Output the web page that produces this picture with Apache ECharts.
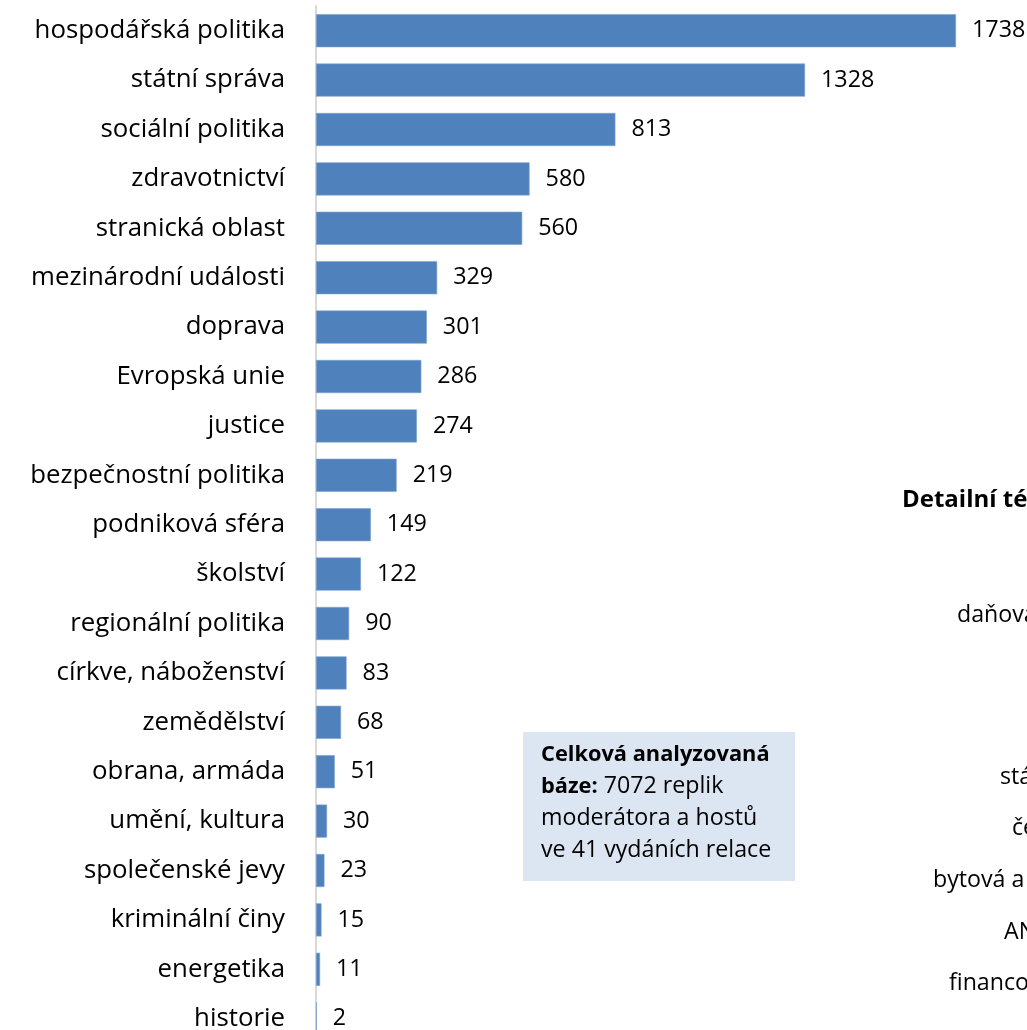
<!DOCTYPE html>
<html><head><meta charset="utf-8">
<script src="https://cdn.jsdelivr.net/npm/echarts@6/dist/echarts.min.js"></script>
<style>html,body{margin:0;padding:0;background:#fff}#c{width:1027px;height:1030px}</style>
</head><body><div id="c"></div>
<script>
const categories = ["hospodářská politika","státní správa","sociální politika","zdravotnictví","stranická oblast","mezinárodní události","doprava","Evropská unie","justice","bezpečnostní politika","podniková sféra","školství","regionální politika","církve, náboženství","zemědělství","obrana, armáda","umění, kultura","společenské jevy","kriminální činy","energetika","historie"];
const values = [1738,1328,813,580,560,329,301,286,274,219,149,122,90,83,68,51,30,23,15,11,2];
const noteTitle = "Celková analyzovaná";
const noteBold = "báze:";
const noteRest = [" 7072 replik","moderátora a hostů","ve 41 vydáních relace"];
const sideTitle = "Detailní témata";
const sideLabels = ["daňová politika","státní rozpočet","čerpání dotací","bytová a stavební politika","ANO","financování"];

const FONT = '"Open Sans", Lato, sans-serif';
const chart = echarts.init(document.getElementById('c'), null, {renderer:'canvas'});
const sidePos = [[957,616],[1000,778],[1012,829],[933,881],[1004,933],[949,984]];
chart.setOption({
  animation:false,
  textStyle:{fontFamily:FONT},
  grid:{left:316, top:6, width:2000*0.36824, height:21*49.4, containLabel:false, outerBoundsMode:'none'},
  xAxis:{type:'value', min:0, max:2000, show:false},
  yAxis:{type:'category', data:categories, inverse:true,
    axisLine:{show:true, lineStyle:{color:'#d9d9d9', width:2}},
    axisTick:{show:false},
    axisLabel:{margin:31, fontSize:25.8, color:'#000', fontFamily:FONT}},
  series:[{type:'bar', data:values, barCategoryGap:'33%',
    itemStyle:{color:'#4f81bd', borderColor:'#7fa2cf', borderWidth:0.6},
    label:{show:true, position:'right', distance:16, fontSize:23.3, color:'#000', fontFamily:FONT}}],
  graphic:[
    {type:'rect', left:523, top:732, shape:{width:272, height:149}, style:{fill:'#dce6f2'}},
    {type:'text', left:541, top:744, style:{
      text:'{b|'+noteTitle+'}\n{b|'+noteBold+'}{n|'+noteRest[0]+'}\n{n|'+noteRest[1]+'}\n{n|'+noteRest[2]+'}',
      rich:{b:{fontWeight:'bold', fontSize:21.8, fontFamily:FONT, lineHeight:31.7, fill:'#000'},
            n:{fontSize:23.2, fontFamily:FONT, lineHeight:31.7, fill:'#000'}}}},
    {type:'text', left:902, top:488, style:{text:sideTitle, fontSize:24, fontWeight:'bold', fontFamily:FONT, fill:'#000'}},
  ].concat(sideLabels.map((t,i)=>({type:'text', left:sidePos[i][0], top:sidePos[i][1]-12, style:{text:t, fontSize:23.2, fontFamily:FONT, fill:'#000'}})))
});
</script></body></html>
